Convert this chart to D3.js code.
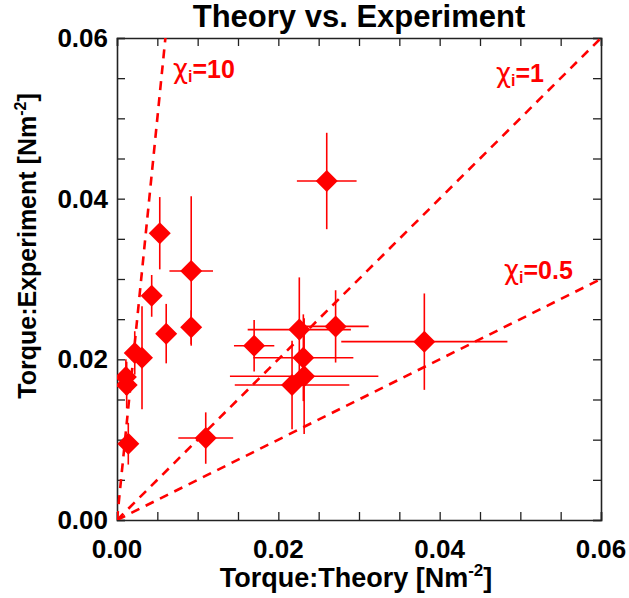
<!DOCTYPE html>
<html>
<head>
<meta charset="utf-8">
<script src="https://cdn.jsdelivr.net/npm/d3@7"></script>
<style>
  html, body { margin: 0; padding: 0; background: #fff; }
  svg { display: block; }
  text { font-family: "Liberation Sans", Arial, Helvetica, sans-serif; font-weight: bold; }
</style>
</head>
<body>
<script>
// Torque measurements: theoretical estimate (x) vs. experimental value (y), N m^-2
const theory     = [0.0260, 0.0053, 0.0092, 0.0092, 0.0043, 0.0061, 0.0022, 0.0031, 0.0011, 0.0012, 0.0014, 0.0170, 0.0226, 0.0271, 0.0231, 0.0232, 0.0217, 0.0381, 0.0110];
const experiment = [0.0422, 0.0357, 0.0310, 0.0240, 0.0279, 0.0232, 0.0208, 0.0202, 0.0178, 0.0168, 0.0095, 0.0217, 0.0237, 0.0241, 0.0202, 0.0179, 0.0168, 0.0222, 0.0102];
const theoryErr  = [0.0037, 0.0000, 0.0027, 0.0000, 0.0000, 0.0000, 0.0000, 0.0000, 0.0000, 0.0000, 0.0000, 0.0025, 0.0064, 0.0041, 0.0062, 0.0092, 0.0071, 0.0103, 0.0034];
const expErr     = [0.0060, 0.0045, 0.0093, 0.0021, 0.0026, 0.0037, 0.0027, 0.0064, 0.0022, 0.0029, 0.0026, 0.0032, 0.0065, 0.0045, 0.0054, 0.0072, 0.0055, 0.0060, 0.0032];

// Reference ratios experiment/theory drawn as dashed lines
const chiValues = [10, 1, 0.5];
const chiLabels = ["10", "1", "0.5"];

const tickValues = [0, 0.02, 0.04, 0.06];
const minorTicks = d3.range(0, 0.0601, 0.005);

const W = 629, H = 598;
const m = { left: 117, right: 28, top: 38, bottom: 78 };
const iw = W - m.left - m.right, ih = H - m.top - m.bottom;
const RED = "#ff0000";

const svg = d3.select("body").append("svg").attr("width", W).attr("height", H);

const x = d3.scaleLinear().domain([0, 0.06]).range([m.left, m.left + iw]);
const y = d3.scaleLinear().domain([0, 0.06]).range([m.top + ih, m.top]);

svg.append("defs").append("clipPath").attr("id", "plotClip")
  .append("rect").attr("x", m.left).attr("y", m.top).attr("width", iw).attr("height", ih);

// Title
svg.append("text").attr("x", m.left + iw / 2).attr("y", 27)
  .attr("text-anchor", "middle").attr("font-size", 31).text("Theory vs. Experiment");

// Axes with inward ticks on all four sides
const fmt = d3.format(".2f");
const tickLen = 8;
const axB = d3.axisBottom(x).tickValues(minorTicks).tickSize(-tickLen).tickFormat(() => "");
const axT = d3.axisTop(x).tickValues(minorTicks).tickSize(-tickLen).tickFormat(() => "");
const axL = d3.axisLeft(y).tickValues(minorTicks).tickSize(-tickLen).tickFormat(() => "");
const axR = d3.axisRight(y).tickValues(minorTicks).tickSize(-tickLen).tickFormat(() => "");

function styleAxis(g) {
  g.selectAll("path").attr("stroke", "#222").attr("stroke-width", 1.6);
  g.selectAll("line").attr("stroke", "#222").attr("stroke-width", 1.3);
}
svg.append("g").attr("transform", `translate(0,${m.top + ih})`).call(axB).call(styleAxis);
svg.append("g").attr("transform", `translate(0,${m.top})`).call(axT).call(styleAxis);
svg.append("g").attr("transform", `translate(${m.left},0)`).call(axL).call(styleAxis);
svg.append("g").attr("transform", `translate(${m.left + iw},0)`).call(axR).call(styleAxis);

// Tick labels
svg.append("g").selectAll("text").data(tickValues).join("text")
  .attr("x", d => x(d)).attr("y", m.top + ih + 38)
  .attr("text-anchor", "middle").attr("font-size", 26).text(fmt);
svg.append("g").selectAll("text").data(tickValues).join("text")
  .attr("x", m.left - 9).attr("y", d => y(d) + 9)
  .attr("text-anchor", "end").attr("font-size", 26).text(fmt);

// Axis titles
const xt = svg.append("text").attr("x", m.left + iw / 2 - 3).attr("y", 587)
  .attr("text-anchor", "middle").attr("font-size", 27);
xt.append("tspan").text("Torque:Theory [Nm");
xt.append("tspan").attr("font-size", 17).attr("dy", -11).text("-2");
xt.append("tspan").attr("dy", 11).text("]");

const yt = svg.append("text").attr("transform", "translate(36,246) rotate(-90)")
  .attr("text-anchor", "middle").attr("font-size", 25);
yt.append("tspan").text("Torque:Experiment [Nm");
yt.append("tspan").attr("font-size", 16).attr("dy", -10).text("-2");
yt.append("tspan").attr("dy", 10).text("]");

// Dashed ratio lines
const plot = svg.append("g").attr("clip-path", "url(#plotClip)");
plot.selectAll("line.ratio").data(chiValues).join("line").attr("class", "ratio")
  .attr("x1", x(0)).attr("y1", y(0))
  .attr("x2", d => x(0.06)).attr("y2", d => y(0.06 * d))
  .attr("stroke", RED).attr("stroke-width", 2.6).attr("stroke-dasharray", "9,7");

// Ratio labels
const labelPos = [[173, 78], [496, 82], [504, 279]];
chiLabels.forEach((lab, i) => {
  const t = svg.append("text").attr("x", labelPos[i][0]).attr("y", labelPos[i][1])
    .attr("fill", RED).attr("font-size", 25);
  t.append("tspan").attr("font-weight", "normal").attr("font-family", "DejaVu Sans, sans-serif").attr("font-size", 26).text("\u03c7");
  t.append("tspan").attr("font-size", 16).attr("dy", 4).text("i");
  t.append("tspan").attr("dy", -4).text("=" + lab);
});

// Error bars
const data = theory.map((d, i) => ({ x: d, y: experiment[i], xe: theoryErr[i], ye: expErr[i] }));
const bars = plot.append("g").attr("stroke", RED).attr("stroke-width", 1.6);
bars.selectAll("line.h").data(data.filter(d => d.xe > 0)).join("line").attr("class", "h")
  .attr("x1", d => x(d.x - d.xe)).attr("x2", d => x(d.x + d.xe))
  .attr("y1", d => y(d.y)).attr("y2", d => y(d.y));
bars.selectAll("line.v").data(data.filter(d => d.ye > 0)).join("line").attr("class", "v")
  .attr("x1", d => x(d.x)).attr("x2", d => x(d.x))
  .attr("y1", d => y(d.y - d.ye)).attr("y2", d => y(d.y + d.ye));

// Diamond markers
const r = 11;
plot.append("g").selectAll("path").data(data).join("path")
  .attr("d", d => {
    const cx = x(d.x), cy = y(d.y);
    return `M${cx},${cy - r}L${cx + r},${cy}L${cx},${cy + r}L${cx - r},${cy}Z`;
  })
  .attr("fill", RED);
</script>
</body>
</html>
